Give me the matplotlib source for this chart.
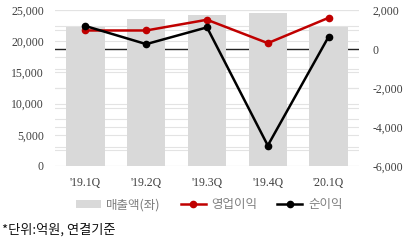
import matplotlib
matplotlib.use("Agg")
import matplotlib.pyplot as plt
import numpy as np

# data (억원)
quarters = ["'19.1Q", "'19.2Q", "'19.3Q", "'19.4Q", "'20.1Q"]
sales = [22300, 23600, 24200, 24500, 22300]
op_profit = [950, 950, 1500, 300, 1600]
net_profit = [1180, 250, 1110, -4950, 630]

left_ticks = [0, 5000, 10000, 15000, 20000, 25000]
right_ticks = [-6000, -4000, -2000, 0, 2000]

kr_font = ['Noto Sans CJK KR', 'DejaVu Sans']
num_font = 'Liberation Serif'
grid_col = '#e3e3e3'
tick_col = '#404040'

fig = plt.figure(figsize=(4.14, 2.4), dpi=100)
pos = [55 / 414, 74 / 240, 304 / 414, 156 / 240]
x = np.arange(len(quarters))

# background axes carrying the gridlines (behind the bars)
ax_bg = fig.add_axes(pos, zorder=0)
ax_bg.set_xlim(-0.5, len(quarters) - 0.5)
ax_bg.set_ylim(-6000, 2000)
for v in np.arange(-6000, 2001, 1000):
    ax_bg.axhline(v, color=grid_col, lw=0.8)
for v in np.arange(0, 25001, 2500):
    ax_bg.axhline(-6000 + v * 8000 / 25000, color=grid_col, lw=0.8)
ax_bg.axhline(0, color='#222222', lw=1.0)
ax_bg.axis('off')

# bars on the left axis
ax = fig.add_axes(pos, zorder=1)
ax.patch.set_alpha(0)
ax.bar(x, sales, width=0.63, color='#d9d9d9', label='매출액(좌)')
ax.set_xlim(-0.5, len(quarters) - 0.5)
ax.set_ylim(0, 25000)
ax.set_yticks(left_ticks)
ax.set_yticklabels([f'{v:,}' for v in left_ticks])
ax.set_xticks(x)
ax.set_xticklabels(quarters)
for s in ax.spines.values():
    s.set_visible(False)
ax.tick_params(length=0, colors=tick_col, labelsize=8.5)
ax.tick_params(axis='y', pad=8)
ax.tick_params(axis='x', pad=8)

# lines on the right axis
ax2 = ax.twinx()
ax2.set_zorder(2)
ax2.patch.set_alpha(0)
ax2.plot(x, op_profit, color='#c00000', lw=1.8, marker='o', ms=4.5, label='영업이익')
ax2.plot(x, net_profit, color='#000000', lw=1.8, marker='o', ms=4.5, label='순이익')
ax2.set_ylim(-6000, 2000)
ax2.set_yticks(right_ticks)
ax2.set_yticklabels([f'{v:,}'.replace('\u2212', '-') for v in right_ticks])
for s in ax2.spines.values():
    s.set_visible(False)
ax2.tick_params(length=0, colors=tick_col, labelsize=8.5, pad=10)

for lab in ax.get_xticklabels() + ax.get_yticklabels() + ax2.get_yticklabels():
    lab.set_fontfamily(num_font)

handles = ax.get_legend_handles_labels()[0] + ax2.get_legend_handles_labels()[0]
labels = ax.get_legend_handles_labels()[1] + ax2.get_legend_handles_labels()[1]
leg = fig.legend(handles, labels, loc='center', bbox_to_anchor=(0.505, 0.146), ncol=3,
                 frameon=False, handlelength=2.0, columnspacing=1.6, handletextpad=0.45,
                 prop={'family': kr_font, 'size': 9})
for t in leg.get_texts():
    t.set_color('#7f7f7f')

fig.text(0.005, 0.042, '*단위:억원, 연결기준', family=kr_font, fontsize=9.5,
         color='#111111', va='center', ha='left')

fig.savefig('out.png', dpi=100)
